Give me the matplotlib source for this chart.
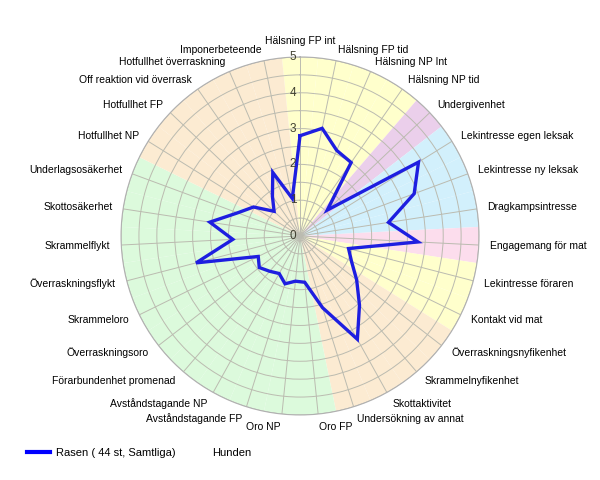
import numpy as np
import matplotlib
matplotlib.use("Agg")
import matplotlib.pyplot as plt
from matplotlib.lines import Line2D
from matplotlib.transforms import offset_copy

plt.rcParams['font.family'] = ['Liberation Sans', 'DejaVu Sans']

categories = [
    "Hälsning FP int", "Hälsning FP tid", "Hälsning NP Int", "Hälsning NP tid",
    "Undergivenhet", "Lekintresse egen leksak", "Lekintresse ny leksak",
    "Dragkampsintresse", "Engagemang för mat", "Lekintresse föraren",
    "Kontakt vid mat", "Överraskningsnyfikenhet", "Skrammelnyfikenhet",
    "Skottaktivitet", "Undersökning av annat", "Oro FP", "Oro NP",
    "Avståndstagande FP", "Avståndstagande NP", "Förarbundenhet promenad",
    "Överraskningsoro", "Skrammeloro", "Överraskningsflykt", "Skrammelflykt",
    "Skottosäkerhet", "Underlagsosäkerhet", "Hotfullhet NP", "Hotfullhet FP",
    "Off reaktion vid överrask", "Hotfullhet överraskning", "Imponerbeteende",
]

rasen_values = [
    2.8, 3.07, 2.6, 2.5, 1.05, 3.9, 3.4, 2.5, 3.3, 1.4,
    1.6, 2.0, 2.55, 3.3, 2.1, 1.3, 1.27, 1.4, 1.2, 1.3,
    1.44, 1.3, 3.0, 1.88, 2.55, 1.86, 1.53, 1.0, 1.35, 1.93,
    1.07,
]

sector_groups = [
    "yellow", "yellow", "yellow", "yellow", "purple", "blue", "blue", "blue",
    "pink", "yellow", "yellow", "tan", "tan", "tan", "tan",
    "green", "green", "green", "green", "green", "green", "green", "green",
    "green", "green", "green", "tan", "tan", "tan", "tan", "tan",
]

rticks = [0, 1, 2, 3, 4, 5]
legend_labels = ["Rasen ( 44 st, Samtliga)", "Hunden"]

sector_colors = {
    "yellow": "#FFFFCC", "purple": "#EBCFEB", "blue": "#D2F0FC",
    "pink": "#FCDDED", "tan": "#FCEBD2", "green": "#DCFADC",
}

n = len(categories)
theta = np.arange(n) * 2 * np.pi / n
step = 2 * np.pi / n

fig = plt.figure(figsize=(6, 4.8), dpi=100)
ax = fig.add_axes([0.2017, 0.1355, 0.5967, 0.7458], projection='polar')
ax.set_theta_offset(np.pi / 2)
ax.set_theta_direction(-1)
ax.set_ylim(0, 5)
ax.set_facecolor('none')

# background sectors
ax.bar(theta, [5] * n, width=step, bottom=0,
       color=[sector_colors[g] for g in sector_groups],
       edgecolor='none', zorder=0, align='center')

# grid
ax.set_yticks(np.arange(0.5, 5.01, 0.5))
ax.set_yticklabels([])
ax.set_xticks(theta)
ax.set_xticklabels([])
ax.grid(True, color='#bbbbb0', linewidth=0.7)
ax.spines['polar'].set_color('#b0b0b0')
ax.spines['polar'].set_linewidth(0.8)
for gl in ax.xaxis.get_gridlines() + ax.yaxis.get_gridlines():
    gl.set_zorder(1)

# data line
th_closed = np.append(theta, theta[0])
v_closed = np.append(rasen_values, rasen_values[0])
line, = ax.plot(th_closed, v_closed, color='#1e1ee0', linewidth=2.4, zorder=3,
                solid_joinstyle='miter')

# radial tick labels
tr = offset_copy(ax.transData, fig=fig, x=-5, y=0, units='points')
for r in rticks:
    ax.text(0, r, str(r), transform=tr, ha='center', va='center',
            fontsize=8.5, color='#404030', zorder=4)

# category labels
lab_r = 5.3
for t, lab in zip(theta, categories):
    deg = np.degrees(t)
    va = 'center'
    if abs(deg) < 1:
        ha, va = 'center', 'bottom'
    elif deg < 180:
        ha = 'left'
    else:
        ha = 'right'
    rr = lab_r + 0.06 * max(0.0, -np.cos(t))
    ax.text(t, rr, lab, ha=ha, va=va, fontsize=7.5, color='black',
            clip_on=False)

# legend
handles = [Line2D([], [], color='#0000ff', linewidth=3),
           Line2D([], [], color='none')]
fig.legend(handles, legend_labels, loc='center left',
           bbox_to_anchor=(27 / 600, 1 - 453 / 480), ncol=2, frameon=False,
           fontsize=8, handlelength=2.1, handletextpad=0.5,
           columnspacing=0.7, borderpad=0, borderaxespad=0)

fig.savefig("out.png", dpi=100)
